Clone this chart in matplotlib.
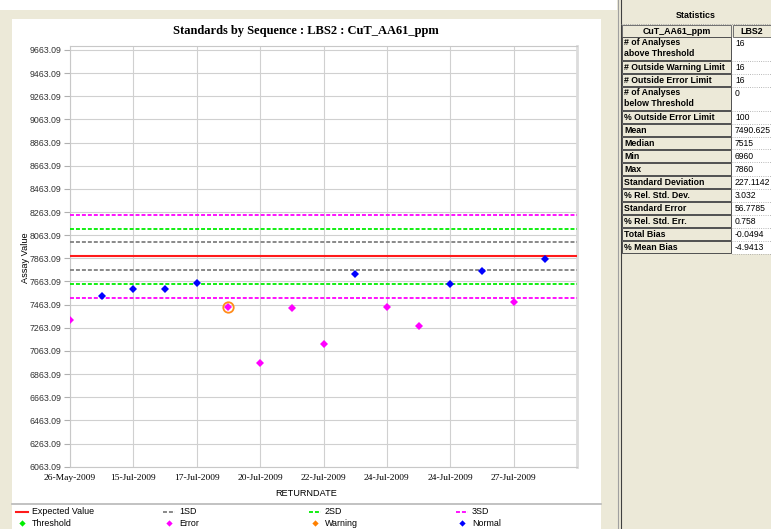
import matplotlib.pyplot as plt
from matplotlib.lines import Line2D
from matplotlib.patches import Rectangle

# Standards by sequence for LBS2, CuT_AA61_ppm
tick_labels = ['26-May-2009', '15-Jul-2009', '17-Jul-2009', '20-Jul-2009',
               '22-Jul-2009', '24-Jul-2009', '24-Jul-2009', '27-Jul-2009']
values = [7330, 7540, 7595, 7600, 7650, 7445, 6960, 7430,
          7120, 7725, 7440, 7280, 7645, 7750, 7490, 7860]
status = ['Error', 'Normal', 'Normal', 'Normal', 'Normal', 'Error', 'Error', 'Error',
          'Error', 'Normal', 'Error', 'Error', 'Normal', 'Normal', 'Error', 'Normal']
selected = [5]
expected = 7880
sd = 120

stat_labels = ['# of Analyses\nabove Threshold', '# Outside Warning Limit',
               '# Outside Error Limit', '# of Analyses\nbelow Threshold',
               '% Outside Error Limit', 'Mean', 'Median', 'Min', 'Max',
               'Standard Deviation', '% Rel. Std. Dev.', 'Standard Error',
               '% Rel. Std. Err.', 'Total Bias', '% Mean Bias']
stat_values = ['16', '16', '16', '0', '100', '7490.625', '7515', '6960', '7860',
               '227.1142', '3.032', '56.7785', '0.758', '-0.0494', '-4.9413']

W, H = 771, 529
BEIGE = '#ece9d8'
SANS = 'Liberation Sans'
SERIF = 'Liberation Serif'

fig = plt.figure(figsize=(W / 100, H / 100), dpi=100)
fig.patch.set_facecolor(BEIGE)


def fx(x):
    return x / W


def fy(y):
    return 1 - y / H


def box(x0, y0, x1, y1, **kw):
    kw.setdefault('zorder', -5)
    fig.add_artist(Rectangle((fx(x0), fy(y1)), (x1 - x0) / W, (y1 - y0) / H,
                             transform=fig.transFigure, **kw))


def hline(x0, x1, y, **kw):
    fig.add_artist(Line2D([fx(x0), fx(x1)], [fy(y), fy(y)], transform=fig.transFigure, **kw))


def vline(x, y0, y1, **kw):
    fig.add_artist(Line2D([fx(x), fx(x)], [fy(y0), fy(y1)], transform=fig.transFigure, **kw))


# background panels
box(0, 0, 617, 10, facecolor='white', edgecolor='none', zorder=-8)
box(12, 19, 601, 529, facecolor='white', edgecolor='none', zorder=-8)
vline(617.5, 0, 529, color='#a0a0a0', lw=0.8)
vline(621, 0, 529, color='#404040', lw=0.8)

# chart
ax = fig.add_axes([fx(70), fy(466.7), (577 - 70) / W, (466.7 - 45.7) / H])
ax.set_facecolor('white')
x = list(range(len(values)))

colors = {'Error': '#ff00ff', 'Normal': '#0000ff', 'Warning': '#ff8000'}
sizes = {'Error': 4.2, 'Normal': 3.6, 'Warning': 4.2}
for s in ['Error', 'Normal']:
    xs = [i for i in x if status[i] == s]
    ys = [values[i] for i in xs]
    ax.plot(xs, ys, 'D', color=colors[s], ms=sizes[s], mew=0, zorder=5)
ax.plot([x[i] for i in selected], [values[i] for i in selected], 'o', mfc='none',
        mec='#ff8c1a', ms=7.5, mew=1.3, zorder=6)

# expected value and SD limits
dash = (2.2, 1.1)
ax.axhline(expected, color='#ff1a1a', lw=1.5, zorder=3)
limit_colors = ['#808080', '#00ee00', '#ff00ff']
for k, c in enumerate(limit_colors, start=1):
    ax.axhline(expected + k * sd, color=c, lw=1.3, dashes=dash, zorder=3)
    ax.axhline(expected - k * sd, color=c, lw=1.3, dashes=dash, zorder=3)

yticks = [6063.09 + 200 * k for k in range(19)]
ax.set_ylim(6063.09, 9700)
ax.set_yticks(yticks)
ax.set_yticklabels(['%.2f' % v for v in yticks], fontsize=6.3, family=SANS, color='#333333')
ax.set_xlim(0, 16)
ax.set_xticks(range(0, 16, 2))
ax.set_xticklabels(tick_labels, fontsize=6.8, family=SERIF)
ax.tick_params(axis='y', length=4, color='#b0b0b0', pad=2)
ax.tick_params(axis='x', length=0, pad=5)
ax.grid(True, color='#d0d0d0', lw=0.8, zorder=0)
ax.set_axisbelow(True)
for side in ['left', 'top', 'bottom']:
    ax.spines[side].set_color('#c8c8c8')
    ax.spines[side].set_linewidth(0.8)
ax.spines['right'].set_color('#dcdcdc')
ax.spines['right'].set_linewidth(2)

fig.text(fx(306), fy(31), 'Standards by Sequence : LBS2 : CuT_AA61_ppm', ha='center',
         va='center', fontsize=9, fontweight='bold', family=SERIF)
fig.text(fx(306), fy(493), 'RETURNDATE', ha='center', va='center', fontsize=6.6, family=SANS)
fig.text(fx(25), fy(258), 'Assay Value', ha='center', va='center', rotation=90,
         fontsize=6.6, family=SANS)

# legend
hline(12, 601, 503.5, color='#b8b8b8', lw=1.2)
legend_lines = [('Expected Value', '#ff1a1a', None, 16),
                ('1SD', '#808080', dash, 163),
                ('2SD', '#00ee00', dash, 309),
                ('3SD', '#ff00ff', dash, 456)]
for name, c, d, x0 in legend_lines:
    if d is None:
        hline(x0, x0 + 12, 511.5, color=c, lw=1.5)
    else:
        hline(x0, x0 + 12, 511.5, color=c, lw=1.3, dashes=d)
    fig.text(fx(x0 + 16), fy(511.5), name, ha='left', va='center', fontsize=6.4, family=SANS)
legend_marks = [('Threshold', '#00ee00', 16), ('Error', '#ff00ff', 163),
                ('Warning', '#ff8000', 309), ('Normal', '#0000ff', 456)]
for name, c, x0 in legend_marks:
    fig.add_artist(Line2D([fx(x0 + 6)], [fy(523)], marker='D', ms=3.2, mew=0, color=c,
                          transform=fig.transFigure))
    fig.text(fx(x0 + 16), fy(523), name, ha='left', va='center', fontsize=6.4, family=SANS)

# statistics table
x0, xm, x1 = 621, 732, 771
box(x0, 7, x1, 24, facecolor=BEIGE, edgecolor='none')
fig.text(fx((x0 + x1) / 2), fy(16), 'Statistics', ha='center', va='center',
         fontsize=6.4, fontweight='bold', family=SANS)
hline(x0, x1, 24, color='#909090', lw=0.6, ls=':')
box(x0 + 1, 25, xm - 1, 36.5, facecolor=BEIGE, edgecolor='#707070', lw=0.7)
box(xm + 1, 25, x1 + 2, 36.5, facecolor=BEIGE, edgecolor='#707070', lw=0.7)
fig.text(fx((x0 + xm) / 2), fy(31), 'CuT_AA61_ppm', ha='center', va='center',
         fontsize=6.4, fontweight='bold', family=SANS)
fig.text(fx((xm + x1) / 2), fy(31), 'LBS2', ha='center', va='center',
         fontsize=6.4, fontweight='bold', family=SANS)

y = 37
for lab, val in zip(stat_labels, stat_values):
    two_lines = '\n' in lab
    h = 24 if two_lines else 13
    box(x0 + 1, y, xm - 1, y + h - 1, facecolor=BEIGE, edgecolor='#505050', lw=0.7)
    box(xm, y, x1, y + h, facecolor='white', edgecolor='none', zorder=-6)
    hline(xm, x1, y + h - 0.5, color='#a0a0a0', lw=0.6, ls=':')
    if two_lines:
        fig.text(fx(x0 + 3), fy(y + 1), lab, ha='left', va='top', fontsize=6.3,
                 fontweight='bold', family=SANS, linespacing=1.35)
    else:
        fig.text(fx(x0 + 3), fy(y + 6.5), lab, ha='left', va='center', fontsize=6.3,
                 fontweight='bold', family=SANS)
    fig.text(fx(xm + 3), fy(y + 6.5), val, ha='left', va='center', fontsize=6.2, family=SANS)
    y += h

plt.savefig('out.png', dpi=100, facecolor=fig.get_facecolor())
